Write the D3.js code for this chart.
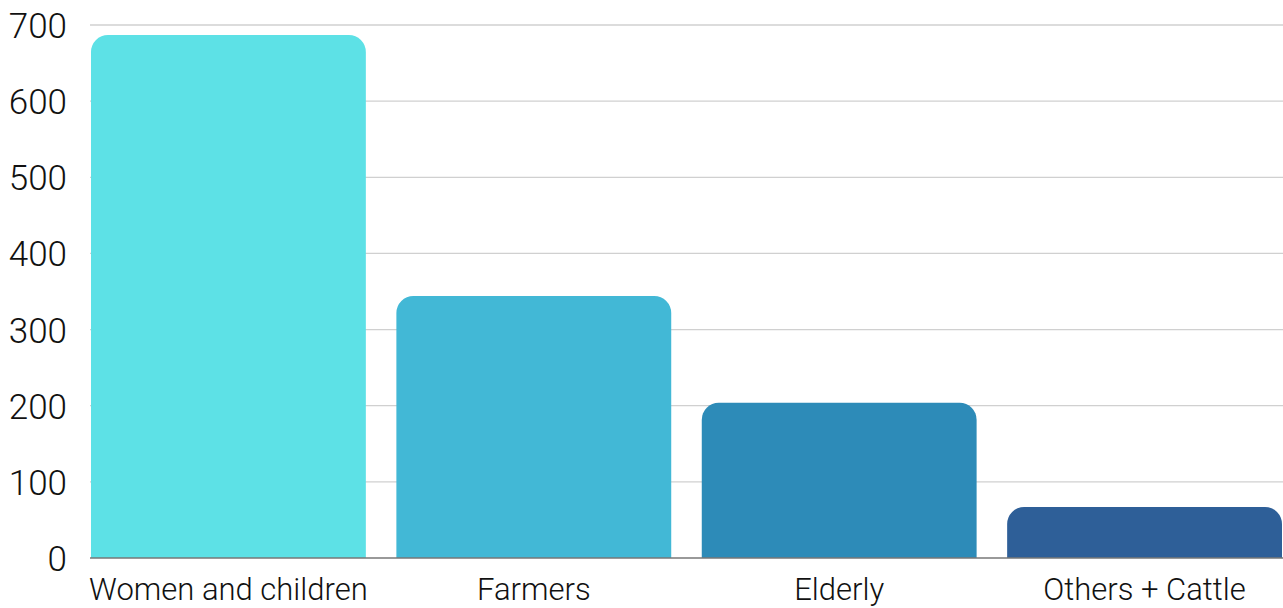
<!DOCTYPE html>
<html>
<head>
<meta charset="utf-8">
<script src="https://cdn.jsdelivr.net/npm/d3@7"></script>
<style>
    body { margin: 0; background: #fff; }
    text { font-family: Roboto, sans-serif; font-weight: 300; fill: #111; }
</style>
</head>
<body>
<svg id="bar-chart" width="1283" height="608"></svg>
<script>
const categories = ["Women and children", "Farmers", "Elderly", "Others + Cattle"];
const values = [687, 344, 204, 67];
const colors = ["#5de1e6", "#42b8d6", "#2d8bb8", "#2e5f98"];
const ticks = [0, 100, 200, 300, 400, 500, 600, 700];

const svg = d3.select("#bar-chart");
const plotLeft = 91;
const plotRight = 1282;
const plotTop = 25;
const plotBottom = 558;

const x = d3.scaleBand().domain(categories).range([plotLeft, plotRight]).paddingInner(0.1).paddingOuter(0);
const y = d3.scaleLinear().domain([0, 700]).range([plotBottom, plotTop]);

// grid
svg.append("g")
    .selectAll("line")
    .data(ticks.slice(1))
    .enter().append("line")
    .attr("x1", plotLeft - 1).attr("x2", 1283)
    .attr("y1", d => y(d)).attr("y2", d => y(d))
    .attr("stroke", "#d0d0d0").attr("stroke-width", 1.3);

// y tick labels
svg.append("g")
    .selectAll("text")
    .data(ticks)
    .enter().append("text")
    .attr("x", 67)
    .attr("y", d => y(d) + 13)
    .attr("text-anchor", "end")
    .attr("font-size", 35)
    .text(d => d);

// bars with rounded top corners
const r = 17;
function barPath(d, i) {
    const x0 = x(categories[i]);
    const w = x.bandwidth();
    const y0 = y(d);
    const y1 = y(0);
    return "M" + x0 + "," + y1 +
        "V" + (y0 + r) +
        "A" + r + "," + r + " 0 0 1 " + (x0 + r) + "," + y0 +
        "H" + (x0 + w - r) +
        "A" + r + "," + r + " 0 0 1 " + (x0 + w) + "," + (y0 + r) +
        "V" + y1 + "Z";
}

svg.append("g")
    .selectAll("path")
    .data(values)
    .enter().append("path")
    .attr("d", barPath)
    .attr("fill", (d, i) => colors[i]);

// baseline
svg.append("line")
    .attr("x1", plotLeft - 1).attr("x2", 1283)
    .attr("y1", y(0)).attr("y2", y(0))
    .attr("stroke", "#777").attr("stroke-width", 1.3);

// category labels
svg.append("g")
    .selectAll("text")
    .data(categories)
    .enter().append("text")
    .attr("x", d => x(d) + x.bandwidth() / 2)
    .attr("y", 600)
    .attr("text-anchor", "middle")
    .attr("font-size", 31)
    .text(d => d);
</script>
</body>
</html>
